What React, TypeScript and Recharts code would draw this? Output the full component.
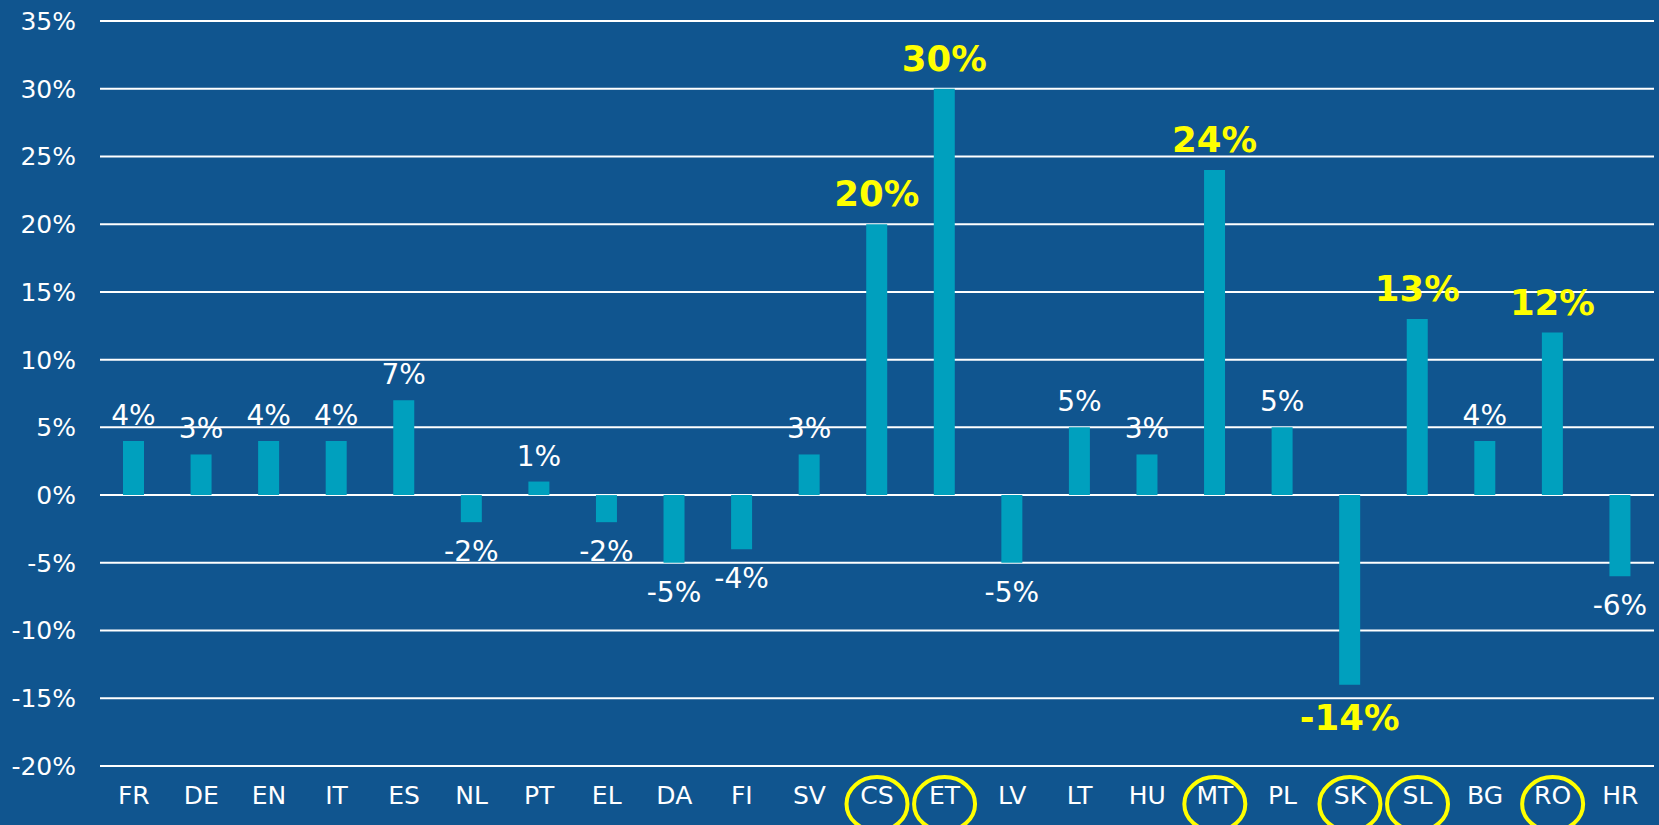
import React from 'react';
import { BarChart, Bar, XAxis, YAxis, CartesianGrid, LabelList } from 'recharts';

const categories = ['FR', 'DE', 'EN', 'IT', 'ES', 'NL', 'PT', 'EL', 'DA', 'FI', 'SV', 'CS', 'ET', 'LV', 'LT', 'HU', 'MT', 'PL', 'SK', 'SL', 'BG', 'RO', 'HR'];
const changes = [4, 3, 4, 4, 7, -2, 1, -2, -5, -4, 3, 20, 30, -5, 5, 3, 24, 5, -14, 13, 4, 12, -6];
const highlighted = ['CS', 'ET', 'MT', 'SK', 'SL', 'RO'];
const yTicks = [-20, -15, -10, -5, 0, 5, 10, 15, 20, 25, 30, 35];

const BG = '#10558F';
const BAR = '#00A0BE';
const YELLOW = '#FFFF00';
const FONT = '"DejaVu Sans", Verdana, sans-serif';

const data = categories.map((c, i) => ({ name: c, value: changes[i], hot: highlighted.includes(c) }));

const ValueLabel = (props: any) => {
  const { x, y, width, height, value, index } = props;
  const hot = data[index].hot;
  const cx = x + width / 2;
  const neg = value < 0;
  // bar rect may have negative height for negative values
  const top = Math.min(y, y + height);
  const bottom = Math.max(y, y + height);
  const ty = neg ? bottom + (hot ? 45 : 39) : top - (hot ? 18 : 16);
  return (
    <text
      x={cx}
      y={ty}
      textAnchor="middle"
      fill={hot ? YELLOW : '#fff'}
      fontSize={hot ? 35.5 : 28}
      fontWeight={hot ? 700 : 400}
      fontFamily={FONT}
    >
      {value}%
    </text>
  );
};

const CategoryTick = (props: any) => {
  const { x, y, payload } = props;
  const hot = highlighted.includes(payload.value);
  return (
    <g>
      <text x={x} y={y} dy="0.71em" textAnchor="middle" fill="#fff" fontSize={25} fontFamily={FONT}>
        {payload.value}
      </text>
      {hot && <ellipse cx={x} cy={y + 18} rx={30.5} ry={27} fill="none" stroke={YELLOW} strokeWidth={4} />}
    </g>
  );
};

export default function App() {
  return (
    <div style={{ position: 'absolute', left: 0, top: 0, width: 1659, height: 825, background: BG, overflow: 'hidden' }}>
      <BarChart width={1659} height={825} data={data} margin={{ top: 21, right: 5, bottom: 0, left: 0 }} barSize={21}>
        <CartesianGrid vertical={false} stroke="#fff" strokeWidth={2} strokeOpacity={1} />
        <XAxis
          dataKey="name"
          axisLine={false}
          tickLine={false}
          height={59}
          interval={0}
          tick={<CategoryTick />}
          tickSize={6}
          tickMargin={14}
        />
        <YAxis
          domain={[-20, 35]}
          ticks={yTicks}
          axisLine={false}
          tickLine={false}
          width={100}
          tickSize={6}
          tickMargin={18}
          interval={0}
          tickFormatter={(v: number) => `${v}%`}
          tick={{ fill: '#fff', fontSize: 25, fontFamily: FONT }}
        />
        <Bar dataKey="value" fill={BAR} isAnimationActive={false}>
          <LabelList dataKey="value" content={<ValueLabel />} />
        </Bar>
      </BarChart>
    </div>
  );
}
